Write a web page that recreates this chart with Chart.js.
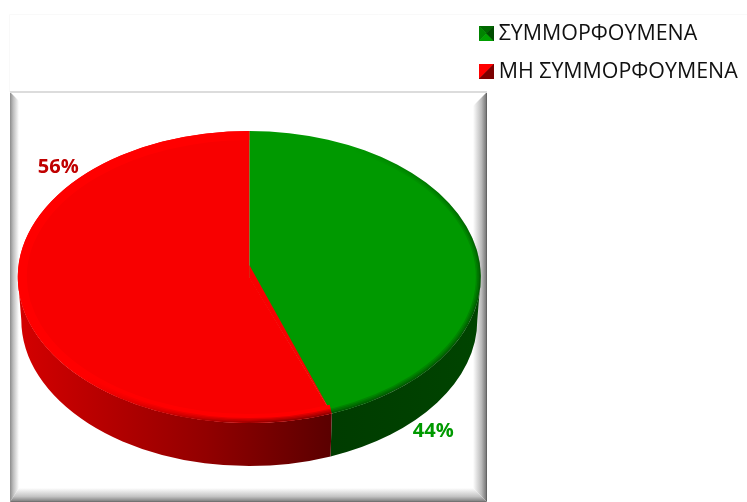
<!DOCTYPE html>
<html><head><meta charset="utf-8">
<style>html,body{margin:0;padding:0;background:#fff}canvas{display:block}</style>
<script src="https://cdn.jsdelivr.net/npm/chart.js@4"></script></head>
<body><div style="width:747px;height:502px"><canvas id="c" width="747" height="502"></canvas></div>
<script>
const categories = ['ΣΥΜΜΟΡΦΟΥΜΕΝΑ', 'ΜΗ ΣΥΜΜΟΡΦΟΥΜΕΝΑ'];
const values = [44.2, 55.8];
const sliceColors = ['#009900', '#F80000'];
const labelColors = ['#009900', '#C00000'];
const labelOffsets = [[184, 154], [-191, -110]];

const pie = {cx: 249.3, cy: 277, rx: 231.5, ry: 146, depth: 43, inset: 3.5, apexLift: 12};
const FONT = '"Open Sans"';

function bevelMarker(paint) {
  const s = 15, c = document.createElement('canvas');
  c.width = s; c.height = s;
  paint(c.getContext('2d'), s);
  return c;
}
const poly = (x, col, pts) => {
  x.fillStyle = col; x.strokeStyle = col; x.lineWidth = .6; x.beginPath();
  pts.forEach((p, i) => i ? x.lineTo(...p) : x.moveTo(...p));
  x.closePath(); x.fill(); x.stroke();
};
const markers = [
  bevelMarker((x, s) => {
    poly(x, '#006800', [[0,0],[s,0],[s/2,s/2]]);
    poly(x, '#008400', [[0,0],[0,s],[s/2,s/2]]);
    poly(x, '#00a000', [[0,s],[s,s],[s/2,s/2]]);
    poly(x, '#004c00', [[s,0],[s,s],[s/2,s/2]]);
  }),
  bevelMarker((x, s) => {
    poly(x, '#ff0000', [[0,0],[s,0],[0,s]]);
    poly(x, '#7c0000', [[s,0],[s,s],[0,s]]);
  })
];

const scene = {
  id: 'scene',
  beforeDraw(chart) {
    const {ctx} = chart;
    const L = 10, T = 92, R = 487, B = 502, b = 9, rb = 14, bb = 14;
    ctx.save();
    ctx.strokeStyle = '#f9f9f9'; ctx.lineWidth = 1;
    ctx.beginPath(); ctx.moveTo(9.5, 92); ctx.lineTo(9.5, 14.5); ctx.lineTo(747, 14.5); ctx.stroke();
    ctx.fillStyle = '#fff'; ctx.fillRect(L, T, R-L, B-T);
    let g = ctx.createLinearGradient(L, 0, L+b, 0);
    g.addColorStop(0, '#8c8c8c'); g.addColorStop(.35, '#bdbdbd'); g.addColorStop(1, '#ffffff');
    ctx.fillStyle = g; ctx.beginPath(); ctx.moveTo(L,T); ctx.lineTo(L+b,T+b); ctx.lineTo(L+b,B-bb); ctx.lineTo(L,B); ctx.closePath(); ctx.fill();
    g = ctx.createLinearGradient(R-rb, 0, R, 0);
    g.addColorStop(0, '#ffffff'); g.addColorStop(.6, '#bbbbbb'); g.addColorStop(.9, '#808080'); g.addColorStop(1, '#555555');
    ctx.fillStyle = g; ctx.beginPath(); ctx.moveTo(R,T); ctx.lineTo(R-rb,T+rb); ctx.lineTo(R-rb,B-bb); ctx.lineTo(R,B); ctx.closePath(); ctx.fill();
    g = ctx.createLinearGradient(0, B-bb, 0, B);
    g.addColorStop(0, '#ffffff'); g.addColorStop(.6, '#c4c4c4'); g.addColorStop(.9, '#8a8a8a'); g.addColorStop(1, '#666666');
    ctx.fillStyle = g; ctx.beginPath(); ctx.moveTo(L,B); ctx.lineTo(L+b,B-bb); ctx.lineTo(R-rb,B-bb); ctx.lineTo(R,B); ctx.closePath(); ctx.fill();
    ctx.fillStyle = '#dcdcdc'; ctx.fillRect(L, T-1, R-L, 2);
    ctx.restore();
    const lg = chart.legend;
    const w = lg.right - lg.left;
    lg.left = 468.4; lg.right = lg.left + w; lg.top = 6.2;
  },
  beforeDatasetsDraw(chart) {
    const {ctx} = chart;
    const arcs = chart.getDatasetMeta(0).data;
    const {cx, cy, rx, ry, depth, inset} = pie;
    const sideFill = [
      (() => { const g = ctx.createLinearGradient(330, 0, cx+rx, 0); g.addColorStop(0, '#003c00'); g.addColorStop(1, '#004400'); return g; })(),
      (() => { const g = ctx.createLinearGradient(cx-rx, 0, 332, 0); g.addColorStop(0, '#d40000'); g.addColorStop(.6, '#920000'); g.addColorStop(1, '#5a0000'); return g; })()
    ];
    arcs.forEach((a, i) => {
      const s = Math.max(a.startAngle, 0), e = Math.min(a.endAngle, Math.PI);
      if (e <= s) return;
      ctx.beginPath();
      ctx.ellipse(cx, cy, rx, ry, 0, s, e);
      ctx.ellipse(cx, cy + depth, rx - inset, ry, 0, e, s, true);
      ctx.closePath();
      ctx.fillStyle = sideFill[i];
      ctx.fill();
    });
    const a0 = arcs[0];
    ctx.save();
    ctx.translate(cx, cy);
    ctx.scale(rx / a0.outerRadius, ry / a0.outerRadius);
    ctx.translate(-a0.x, -a0.y);
  },
  afterDatasetsDraw(chart) {
    const {ctx} = chart;
    ctx.restore();
    const {cx, cy, rx, ry, apexLift} = pie;
    const arcs = chart.getDatasetMeta(0).data;
    const boundary = arcs[0].endAngle;
    const ex = cx + rx * Math.cos(boundary), ey = cy + ry * Math.sin(boundary);
    ctx.save();
    // perspective: the apex of the slices sits above the middle of the ellipse
    ctx.fillStyle = sliceColors[1];
    ctx.beginPath(); ctx.moveTo(cx, cy - apexLift); ctx.lineTo(cx, cy + 1); ctx.lineTo(ex, ey); ctx.closePath(); ctx.fill();
    // rim of the disc
    ctx.beginPath(); ctx.ellipse(cx, cy, rx, ry, 0, 0, Math.PI * 2); ctx.clip();
    ctx.strokeStyle = '#ff0000'; ctx.lineWidth = 18;
    ctx.beginPath(); ctx.ellipse(cx, cy, rx, ry, 0, boundary, Math.PI * 1.5); ctx.stroke();
    const shade = ctx.createConicGradient(-0.9, cx, cy);
    const T = Math.PI * 2;
    shade.addColorStop(0, 'rgba(0,0,0,0)');
    shade.addColorStop(0.9 / T, 'rgba(0,0,0,0.13)');
    shade.addColorStop(2.4 / T, 'rgba(0,0,0,0.13)');
    shade.addColorStop(3.5 / T, 'rgba(0,0,0,0)');
    shade.addColorStop(1, 'rgba(0,0,0,0)');
    [10, 7, 4, 2].forEach(w => {
      ctx.lineWidth = w;
      ctx.strokeStyle = shade;
      ctx.beginPath(); ctx.ellipse(cx, cy, rx, ry, 0, 0, T); ctx.stroke();
    });
    ctx.restore();
    ctx.save();
    ctx.textAlign = 'center'; ctx.textBaseline = 'middle';
    ctx.font = 'bold 20px ' + FONT;
    values.forEach((v, i) => {
      ctx.fillStyle = labelColors[i];
      ctx.fillText(Math.round(v) + '%', cx + labelOffsets[i][0], cy + labelOffsets[i][1]);
    });
    ctx.restore();
  }
};

new Chart(document.getElementById('c'), {
  type: 'pie',
  data: {labels: categories, datasets: [{data: values, backgroundColor: sliceColors, borderWidth: 0}]},
  options: {
    responsive: false, animation: false, devicePixelRatio: 1,
    layout: {padding: {left: 17, top: 10, bottom: 10}},
    plugins: {
      tooltip: {enabled: false},
      legend: {
        position: 'right', align: 'start',
        labels: {
          color: '#111111', font: {family: FONT, size: 21.4},
          usePointStyle: true, pointStyleWidth: 3, padding: 16.6,
          generateLabels: c => categories.map((t, i) => ({text: t, pointStyle: markers[i], fontColor: '#111111', datasetIndex: 0, index: i, lineWidth: 0, strokeStyle: 'transparent', fillStyle: sliceColors[i], hidden: false}))
        }
      }
    }
  },
  plugins: [scene]
});
</script></body></html>
